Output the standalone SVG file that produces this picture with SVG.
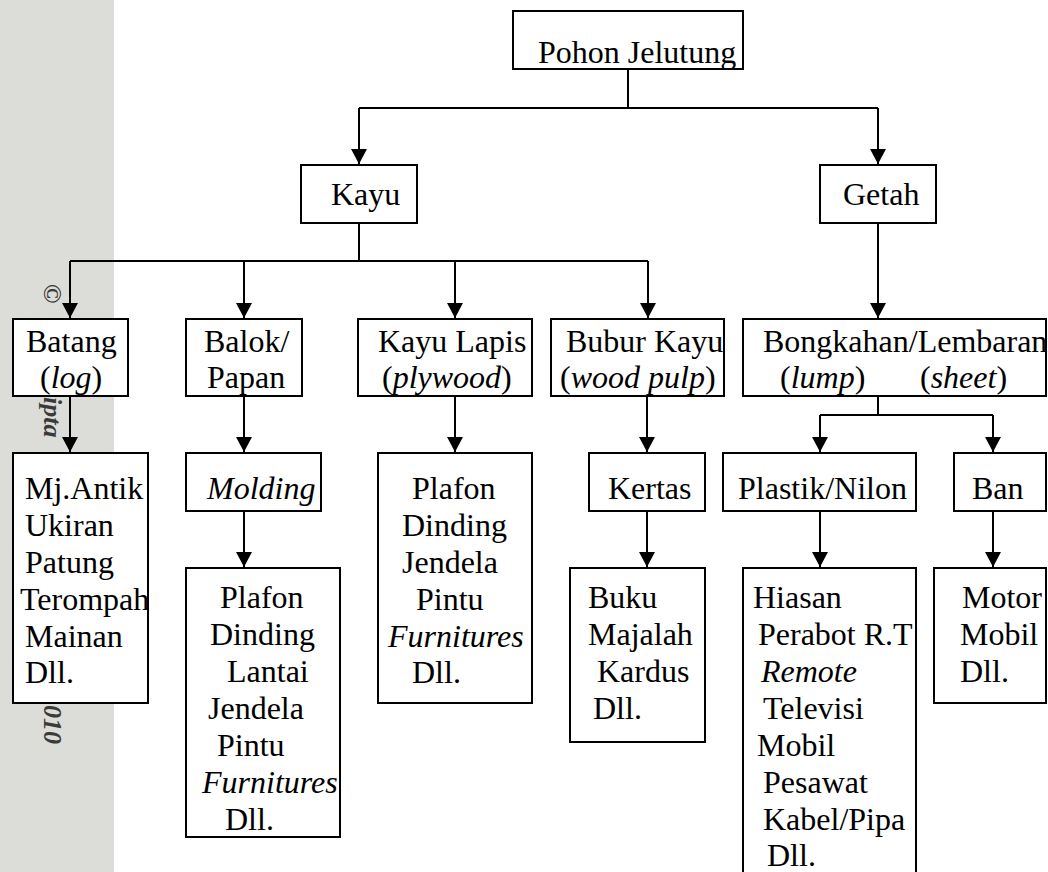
<svg xmlns="http://www.w3.org/2000/svg" width="1048" height="872" viewBox="0 0 1048 872">
<defs>
<style>
.bx{fill:#fff;stroke:#000;stroke-width:2}
.t{font-family:"Liberation Serif","Times New Roman",serif;font-size:32px;fill:#000}
.i{font-style:italic}
.c{fill:none;stroke:#000;stroke-width:2}
.wm{font-family:"Liberation Serif","Times New Roman",serif;font-size:26px;font-weight:bold;font-style:italic;fill:#3a3a3a}
</style>
<marker id="ah" markerWidth="16" markerHeight="16" viewBox="0 0 16 16" refX="15" refY="8" orient="auto" markerUnits="userSpaceOnUse">
<path d="M0,0 L15,8 L0,16 Z" fill="#000"/>
</marker>
</defs>
<rect x="0" y="0" width="1048" height="872" fill="#fff"/>
<rect x="0" y="0" width="114" height="872" fill="#dcddd9"/>
<g id="watermark">
<text class="wm" transform="translate(44,284) rotate(90)">©</text>
<text class="wm" transform="translate(44,397) rotate(90)">ipta</text>
<text class="wm" transform="translate(44,705) rotate(90)">010</text>
</g>
<g id="connectors">
<path class="c" d="M628,69 V108 M359,108 H878"/>
<path class="c" d="M359,108 V164" marker-end="url(#ah)"/>
<path class="c" d="M878,108 V164" marker-end="url(#ah)"/>
<path class="c" d="M359,223 V261 M70,261 H648"/>
<path class="c" d="M70,261 V318" marker-end="url(#ah)"/>
<path class="c" d="M244,261 V318" marker-end="url(#ah)"/>
<path class="c" d="M455,261 V318" marker-end="url(#ah)"/>
<path class="c" d="M648,261 V318" marker-end="url(#ah)"/>
<path class="c" d="M878,223 V318" marker-end="url(#ah)"/>
<path class="c" d="M878,396 V415 M820,415 H993"/>
<path class="c" d="M820,415 V452" marker-end="url(#ah)"/>
<path class="c" d="M993,415 V452" marker-end="url(#ah)"/>
<path class="c" d="M70,396 V452" marker-end="url(#ah)"/>
<path class="c" d="M244,396 V452" marker-end="url(#ah)"/>
<path class="c" d="M455,396 V452" marker-end="url(#ah)"/>
<path class="c" d="M647,396 V452" marker-end="url(#ah)"/>
<path class="c" d="M244,511 V567" marker-end="url(#ah)"/>
<path class="c" d="M647,511 V567" marker-end="url(#ah)"/>
<path class="c" d="M820,511 V567" marker-end="url(#ah)"/>
<path class="c" d="M993,511 V567" marker-end="url(#ah)"/>
</g>
<g id="pohon"><rect class="bx" x="513" y="11" width="230" height="58"/><text class="t" x="538" y="63">Pohon Jelutung</text></g>
<g id="kayu"><rect class="bx" x="301" y="165" width="116" height="58"/><text class="t" x="331" y="205">Kayu</text></g>
<g id="getah"><rect class="bx" x="820" y="165" width="116" height="58"/><text class="t" x="843" y="205">Getah</text></g>
<g id="batang"><rect class="bx" x="13" y="319" width="115" height="77"/><text class="t" x="26" y="352">Batang</text><text class="t" x="40" y="388">(<tspan class="i">log</tspan>)</text></g>
<g id="balok"><rect class="bx" x="186" y="319" width="116" height="77"/><text class="t" x="204" y="352">Balok/</text><text class="t" x="207" y="388">Papan</text></g>
<g id="kayulapis"><rect class="bx" x="358" y="319" width="174" height="77"/><text class="t" x="378" y="352">Kayu Lapis</text><text class="t" x="382" y="388">(<tspan class="i">plywood</tspan>)</text></g>
<g id="bubur"><rect class="bx" x="551" y="319" width="173" height="77"/><text class="t" x="566" y="352">Bubur Kayu</text><text class="t" x="560" y="388">(<tspan class="i">wood pulp</tspan>)</text></g>
<g id="bongkahan"><rect class="bx" x="743" y="319" width="303" height="77"/><text class="t" x="763" y="352">Bongkahan/Lembaran</text><text class="t" x="780" y="388">(<tspan class="i">lump</tspan>)</text><text class="t" x="920" y="388">(<tspan class="i">sheet</tspan>)</text></g>
<g id="mjantik"><rect class="bx" x="13" y="453" width="135" height="250"/>
<text class="t" x="25" y="499">Mj.Antik</text><text class="t" x="25" y="536">Ukiran</text><text class="t" x="25" y="573">Patung</text><text class="t" x="20" y="610">Terompah</text><text class="t" x="25" y="647">Mainan</text><text class="t" x="25" y="683">Dll.</text></g>
<g id="molding"><rect class="bx" x="186" y="453" width="135" height="58"/><text class="t i" x="207" y="499">Molding</text></g>
<g id="molding-uses"><rect class="bx" x="186" y="568" width="154" height="269"/>
<text class="t" x="220" y="608">Plafon</text><text class="t" x="210" y="645">Dinding</text><text class="t" x="227" y="682">Lantai</text><text class="t" x="208" y="719">Jendela</text><text class="t" x="217" y="756">Pintu</text><text class="t i" x="202" y="793">Furnitures</text><text class="t" x="225" y="830">Dll.</text></g>
<g id="plywood-uses"><rect class="bx" x="378" y="453" width="154" height="250"/>
<text class="t" x="412" y="499">Plafon</text><text class="t" x="402" y="536">Dinding</text><text class="t" x="402" y="573">Jendela</text><text class="t" x="416" y="610">Pintu</text><text class="t i" x="388" y="647">Furnitures</text><text class="t" x="412" y="683">Dll.</text></g>
<g id="kertas"><rect class="bx" x="589" y="453" width="116" height="58"/><text class="t" x="608" y="499">Kertas</text></g>
<g id="kertas-uses"><rect class="bx" x="570" y="568" width="135" height="174"/>
<text class="t" x="588" y="608">Buku</text><text class="t" x="588" y="645">Majalah</text><text class="t" x="597" y="682">Kardus</text><text class="t" x="593" y="719">Dll.</text></g>
<g id="plastik"><rect class="bx" x="723" y="453" width="193" height="58"/><text class="t" x="738" y="499">Plastik/Nilon</text></g>
<g id="ban"><rect class="bx" x="954" y="453" width="92" height="58"/><text class="t" x="972" y="499">Ban</text></g>
<g id="plastik-uses"><rect class="bx" x="743" y="568" width="173" height="320"/>
<text class="t" x="753" y="608">Hiasan</text><text class="t" x="758" y="645">Perabot R.T</text><text class="t i" x="761" y="682">Remote</text><text class="t" x="763" y="719">Televisi</text><text class="t" x="757" y="756">Mobil</text><text class="t" x="763" y="793">Pesawat</text><text class="t" x="763" y="830">Kabel/Pipa</text><text class="t" x="767" y="866">Dll.</text></g>
<g id="ban-uses"><rect class="bx" x="934" y="568" width="112" height="135"/>
<text class="t" x="962" y="608">Motor</text><text class="t" x="960" y="645">Mobil</text><text class="t" x="960" y="682">Dll.</text></g>
</svg>
